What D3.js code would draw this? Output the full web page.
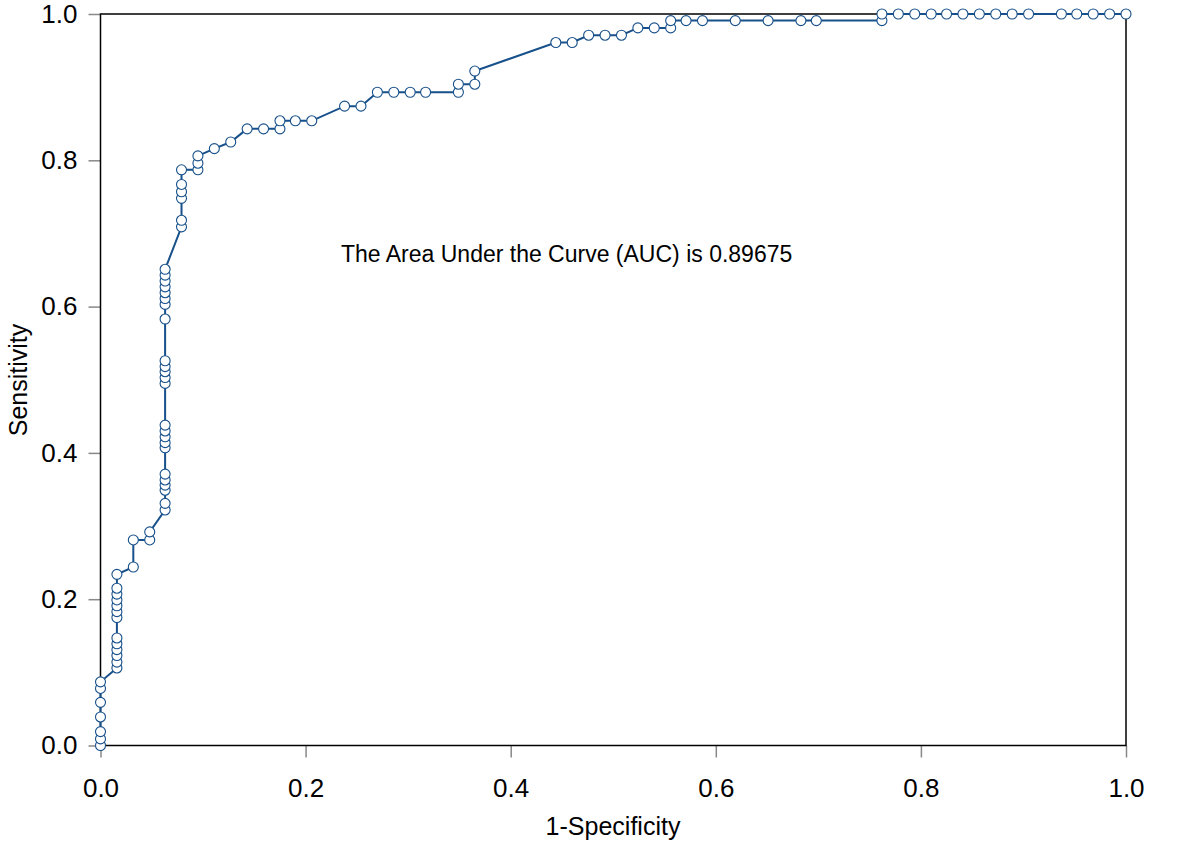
<!DOCTYPE html>
<html><head><meta charset="utf-8">
<script src="https://cdn.jsdelivr.net/npm/d3@7/dist/d3.min.js"></script>
<style>body{margin:0;background:#fff}svg{display:block}text{font-family:"Liberation Sans",Arial,sans-serif}</style>
</head><body><svg id="c" width="1200" height="851"></svg>
<script>
const fpr = [0,0,0,0,0,0,0,
  0.016,0.016,0.016,0.016,0.016,0.016,0.016,0.016,0.016,0.016,0.016,0.016,0.016,
  0.032,0.032,0.048,0.048,
  0.063,0.063,0.063,0.063,0.063,0.063,0.063,0.063,0.063,0.063,0.063,0.063,0.063,0.063,0.063,0.063,0.063,0.063,0.063,0.063,0.063,0.063,0.063,0.063,
  0.079,0.079,0.079,0.079,0.079,0.079,
  0.095,0.095,0.095,0.111,0.127,0.143,0.159,0.175,0.175,0.190,0.206,0.238,0.254,
  0.270,0.286,0.302,0.317,0.349,0.349,0.365,0.365,
  0.444,0.460,0.476,0.492,0.508,0.524,0.540,0.556,0.556,0.571,0.587,0.619,0.651,0.683,0.698,0.762,0.762,
  0.778,0.794,0.810,0.825,0.841,0.857,0.873,0.889,0.905,0.937,0.952,0.968,0.984,1];
const tpr = [0,0.009,0.019,0.039,0.059,0.078,0.087,
  0.106,0.114,0.123,0.131,0.139,0.147,0.175,0.183,0.191,0.199,0.207,0.215,0.234,
  0.244,0.281,0.281,0.292,
  0.322,0.331,0.349,0.356,0.363,0.371,0.407,0.414,0.422,0.430,0.438,0.495,0.503,0.511,0.518,0.526,0.583,0.603,0.611,0.619,0.627,0.635,0.643,0.651,
  0.709,0.718,0.748,0.757,0.767,0.787,
  0.787,0.796,0.806,0.816,0.825,0.843,0.843,0.843,0.854,0.854,0.854,0.874,0.874,
  0.893,0.893,0.893,0.893,0.893,0.904,0.904,0.922,
  0.961,0.961,0.971,0.971,0.971,0.981,0.981,0.981,0.991,0.991,0.991,0.991,0.991,0.991,0.991,0.991,1,
  1,1,1,1,1,1,1,1,1,1,1,1,1,1];
const xTicks = [0,0.2,0.4,0.6,0.8,1.0];
const yTicks = [0,0.2,0.4,0.6,0.8,1.0];
const xTitle = "1-Specificity";
const yTitle = "Sensitivity";
const aucText = "The Area Under the Curve (AUC) is 0.89675";

const pts = fpr.map((f,i)=>({x:f,y:tpr[i]}));
const L=100.5,R=1126,T=14,B=745.5;
const x=d3.scaleLinear().domain([0,1]).range([L,R]);
const y=d3.scaleLinear().domain([0,1]).range([B,T]);
const svg=d3.select("#c");
const col="#17508a";

const xa=svg.append("g").attr("transform",`translate(0,${B})`)
  .call(d3.axisBottom(x).tickValues(xTicks).tickFormat(d3.format(".1f")).tickSize(12).tickPadding(21));
const ya=svg.append("g").attr("transform",`translate(${L},0)`)
  .call(d3.axisLeft(y).tickValues(yTicks).tickFormat(d3.format(".1f")).tickSize(12).tickPadding(11));
[xa,ya].forEach(a=>{a.select(".domain").remove();a.selectAll("line").attr("stroke","#888").attr("stroke-width",1.5);
  a.selectAll("text").attr("font-size",26).attr("fill","#000").attr("font-family","Liberation Sans, Arial, sans-serif");});

svg.append("rect").attr("x",L).attr("y",T).attr("width",R-L).attr("height",B-T)
  .attr("fill","none").attr("stroke","#000").attr("stroke-width",1.5);

svg.append("path").datum(pts).attr("fill","none").attr("stroke",col).attr("stroke-width",2)
  .attr("d",d3.line().x(d=>x(d.x)).y(d=>y(d.y)));
svg.append("g").selectAll("circle").data(pts).join("circle")
  .attr("cx",d=>x(d.x)).attr("cy",d=>y(d.y)).attr("r",5)
  .attr("fill","#fff").attr("stroke",col).attr("stroke-width",1.1);

svg.append("text").attr("x",613).attr("y",835).attr("text-anchor","middle").attr("font-size",25).text(xTitle);
svg.append("text").attr("transform","translate(27,380) rotate(-90)").attr("text-anchor","middle").attr("font-size",25).text(yTitle);
svg.append("text").attr("x",341).attr("y",262).attr("font-size",23).text(aucText);
</script></body></html>
